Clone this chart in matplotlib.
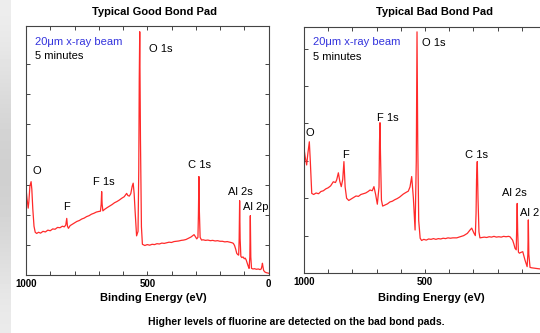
import numpy as np
import matplotlib.pyplot as plt
from matplotlib.ticker import MultipleLocator

plt.rcParams['font.family'] = ['Liberation Sans', 'DejaVu Sans']

# XPS survey spectra, binding energy (eV) and intensity (arb. units)
good_energy = [1000, 996, 991, 988, 984, 979, 976, 972, 967, 962, 956, 948, 940, 930, 920,
               910, 900, 890, 880, 870, 860, 850, 842, 836, 832, 829, 825, 818, 810, 800,
               790, 780, 770, 760, 750, 740, 730, 720, 710, 700, 693, 690, 688, 686, 683,
               676, 665, 655, 645, 635, 625, 615, 605, 595, 585, 580, 574, 568, 562, 558,
               554, 550, 544, 538, 535, 533, 531, 528, 524, 520, 510, 500, 490, 480, 470,
               460, 450, 440, 430, 420, 410, 400, 390, 380, 370, 360, 350, 340, 330, 320,
               312, 307, 302, 296, 291, 289, 287, 285, 282, 276, 270, 260, 250, 240, 230,
               220, 210, 200, 190, 180, 170, 160, 150, 145, 140, 135, 131, 127, 123, 121,
               119, 117, 114, 110, 105, 100, 96, 92, 88, 84, 80, 77, 75, 73, 70,
               64, 58, 50, 42, 35, 30, 27, 25, 23, 20, 15, 10, 5, 0]
good_counts = [2.88, 2.55, 2.22, 2.45, 2.95, 3.10, 2.85, 2.20, 1.62, 1.42, 1.38, 1.42, 1.39, 1.45, 1.43,
               1.49, 1.47, 1.53, 1.52, 1.58, 1.57, 1.62, 1.60, 1.66, 1.88, 1.62, 1.55, 1.64, 1.68, 1.73,
               1.78, 1.81, 1.86, 1.89, 1.94, 1.97, 2.02, 2.05, 2.09, 2.11, 2.12, 2.35, 2.77, 2.35, 2.13,
               2.18, 2.24, 2.29, 2.34, 2.40, 2.44, 2.49, 2.55, 2.60, 2.71, 2.64, 2.62, 2.70, 2.95, 3.05,
               2.70, 2.11, 1.30, 1.45, 3.50, 6.50, 8.08, 4.50, 1.60, 1.02, 0.98, 1.01, 0.99, 1.02, 1.01,
               1.04, 1.03, 1.06, 1.05, 1.07, 1.09, 1.08, 1.11, 1.12, 1.13, 1.15, 1.16, 1.18, 1.22, 1.26,
               1.31, 1.34, 1.28, 1.20, 1.25, 2.00, 3.27, 2.10, 1.25, 1.16, 1.17, 1.15, 1.16, 1.14, 1.15,
               1.13, 1.14, 1.12, 1.12, 1.10, 1.11, 1.09, 1.07, 1.05, 0.98, 0.85, 0.72, 0.68, 0.66, 1.20,
               2.47, 1.20, 0.62, 0.58, 0.60, 0.54, 0.56, 0.50, 0.40, 0.30, 0.22, 0.60, 1.97, 0.60, 0.22,
               0.20, 0.21, 0.19, 0.20, 0.18, 0.20, 0.30, 0.39, 0.28, 0.15, 0.10, 0.08, 0.07, 0.06]

bad_energy = [1000, 995, 989, 984, 978, 974, 968, 960, 950, 940, 930, 920, 910, 900, 890,
              879, 870, 865, 858, 852, 846, 840, 835, 830, 824, 815, 805, 795, 785, 775,
              765, 755, 745, 735, 727, 718, 711, 704, 697, 690, 688, 686, 684, 680, 675,
              665, 655, 645, 635, 625, 615, 605, 590, 580, 569, 562, 555, 548, 541, 536,
              533, 530, 526, 520, 514, 505, 495, 485, 475, 465, 455, 445, 435, 425, 415,
              405, 395, 385, 369, 355, 340, 325, 314, 307, 298, 292, 289, 287, 284, 281,
              277, 273, 265, 255, 245, 235, 225, 215, 205, 195, 185, 175, 165, 155, 149,
              143, 138, 133, 128, 123, 121, 119, 117, 114, 110, 104, 96, 91, 87, 82,
              78, 75, 73, 71, 66, 60, 50, 38, 25, 15, 0]
bad_counts = [3.33, 3.10, 2.89, 3.20, 3.51, 3.00, 2.13, 2.10, 2.14, 2.12, 2.18, 2.20, 2.25, 2.28, 2.33,
              2.44, 2.42, 2.49, 2.68, 2.45, 2.31, 2.50, 2.98, 2.30, 2.00, 1.94, 1.98, 2.02, 2.06, 2.05,
              2.10, 2.12, 2.14, 2.18, 2.22, 2.20, 2.31, 2.10, 1.84, 2.30, 3.50, 4.02, 3.20, 1.95, 1.79,
              1.82, 1.85, 1.90, 1.92, 1.96, 1.99, 2.03, 2.11, 2.15, 2.19, 2.30, 2.58, 2.00, 1.15, 3.00,
              6.45, 3.50, 1.40, 0.93, 0.87, 0.90, 0.88, 0.91, 0.90, 0.92, 0.90, 0.92, 0.91, 0.93, 0.92,
              0.94, 0.93, 0.94, 0.94, 0.97, 1.00, 1.06, 1.15, 1.20, 1.07, 1.00, 1.60, 2.50, 2.98, 2.00,
              1.10, 0.94, 0.95, 0.96, 0.95, 0.97, 0.96, 0.98, 0.96, 0.97, 0.96, 0.98, 0.97, 0.98, 0.97,
              0.92, 0.88, 0.78, 0.66, 0.62, 1.20, 1.86, 1.10, 0.56, 0.53, 0.55, 0.57, 0.45, 0.35, 0.25,
              0.17, 0.50, 1.42, 0.50, 0.15, 0.14, 0.13, 0.12, 0.11, 0.10, 0.10]

good_labels = ["O 1s", "C 1s", "O", "F 1s", "F", "Al 2s", "Al 2p"]
good_label_pos = [(493, 7.51), (332, 3.65), (975, 3.47), (724, 3.10), (847, 2.26), (167, 2.77), (105, 2.26)]
bad_labels = ["O 1s", "F 1s", "O", "F", "C 1s", "Al 2s", "Al 2p"]
bad_label_pos = [(512, 6.15), (698, 4.15), (992, 3.74), (843, 3.16), (335, 3.16), (182, 2.15), (107, 1.60)]

fig = plt.figure(figsize=(5.4, 3.33), dpi=100)

# grey strip on the left edge
strip = fig.add_axes([0, 0, 11 / 540, 1])
shade = np.array([0.93, 0.90, 0.86, 0.83, 0.81, 0.82, 0.85, 0.89, 0.92])
strip.imshow(np.repeat(shade[:, None], 2, axis=1), cmap='gray', vmin=0, vmax=1,
             aspect='auto', interpolation='bicubic')
strip.axis('off')

ax1 = fig.add_axes([26 / 540, 58 / 333, 242.5 / 540, 249 / 333])
ax2 = fig.add_axes([304 / 540, 60 / 333, 242 / 540, 246 / 333])

panels = [
    (ax1, good_energy, good_counts, good_labels, good_label_pos, 8.27, 7, ['1000', '500', '0']),
    (ax2, bad_energy, bad_counts, bad_labels, bad_label_pos, 6.58, 6, ['1000', '500', '']),
]

for ax, energy, counts, labels, positions, ytop, nticks, xlabels in panels:
    ax.plot(energy, counts, color='#ff2a2a', lw=0.9)
    ax.set_xlim(1000, 0)
    ax.set_ylim(0, ytop)
    ax.set_xticks([1000, 500, 0])
    ax.set_xticklabels(xlabels, fontsize=7, fontweight='bold')
    ax.xaxis.set_minor_locator(MultipleLocator(100))
    ax.set_yticks(range(1, nticks + 1))
    ax.set_yticklabels([])
    ax.tick_params(which='both', direction='in', top=True, right=True, length=3,
                   width=0.7, color='#444444', pad=3)
    for s in ax.spines.values():
        s.set_color('#444444')
        s.set_linewidth(0.8)
    for text, (x, y) in zip(labels, positions):
        ax.text(x, y, text, fontsize=8, ha='left', va='center')
    ax.text(0.037, 0.937, '20\u03bcm x-ray beam', color='#3333dd', fontsize=8,
            transform=ax.transAxes, va='center')
    ax.text(0.037, 0.88, '5 minutes', color='black', fontsize=8,
            transform=ax.transAxes, va='center')

fig.text(154.5 / 540, 1 - 12 / 333, 'Typical Good Bond Pad', ha='center', va='center',
         fontsize=8, fontweight='bold')
fig.text(434 / 540, 1 - 12 / 333, 'Typical Bad Bond Pad', ha='center', va='center',
         fontsize=8, fontweight='bold')
fig.text(153 / 540, 1 - 298 / 333, 'Binding Energy (eV)', ha='center', va='center',
         fontsize=8, fontweight='bold')
fig.text(431 / 540, 1 - 298 / 333, 'Binding Energy (eV)', ha='center', va='center',
         fontsize=8, fontweight='bold')
fig.text(296 / 540, 1 - 322 / 333,
         'Higher levels of fluorine are detected on the bad bond pads.',
         ha='center', va='center', fontsize=7.5, fontweight='bold')

fig.savefig('out.png', dpi=100)
